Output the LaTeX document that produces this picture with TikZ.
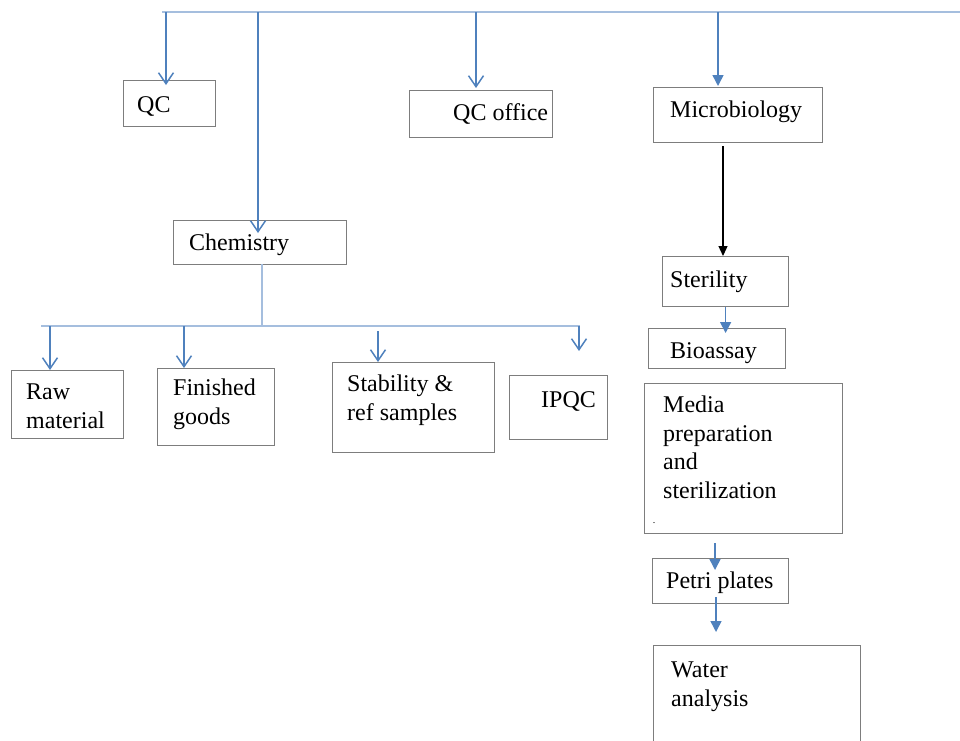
\documentclass[tikz,border=0pt]{standalone}
\usepackage{fontspec}
\setmainfont{Liberation Serif}
\usetikzlibrary{arrows.meta}
\definecolor{boxgray}{RGB}{125,125,125}
\definecolor{arrblue}{RGB}{79,129,189}
\definecolor{barblue}{RGB}{165,190,222}
\tikzset{
  box/.style={draw=boxgray,line width=1.2pt,anchor=north west,inner sep=0pt},
  lbl/.style={anchor=base west,inner sep=0pt,align=left,font=\fontsize{24}{28.5}\selectfont},
  bar/.style={draw=barblue,line width=1.3pt},
  vee/.style={draw=arrblue,line width=1.5pt,-{Straight Barb[length=11pt,width=15pt,line width=1.5pt]}},
  tri/.style={draw=arrblue,line width=1.5pt,-{Triangle[length=11pt,width=11pt]}},
  blk/.style={draw=black,line width=1.2pt,-{Triangle[length=10pt,width=9pt]}}
}
\begin{document}
\begin{tikzpicture}[x=1pt,y=-1pt]
\useasboundingbox (0,0) rectangle (960,740);
% boxes
\node[box,minimum width=92,minimum height=46] (qc) at (123,80) {};
\node[box,minimum width=173,minimum height=44] (chem) at (173,220) {};
\node[box,minimum width=143,minimum height=47] (qco) at (409,90) {};
\node[box,minimum width=169,minimum height=55] (mb) at (653,87) {};
\node[box,minimum width=126,minimum height=50] (ster) at (662,256) {};
\node[box,minimum width=137,minimum height=40] (bio) at (648,328) {};
\node[box,minimum width=198,minimum height=150] (media) at (644,383) {};
\node[box,minimum width=136,minimum height=45] (petri) at (652,558) {};
\node[box,minimum width=207,minimum height=130] (water) at (653,645) {};
\node[box,minimum width=112,minimum height=68] (raw) at (11,370) {};
\node[box,minimum width=117,minimum height=77] (fin) at (157,368) {};
\node[box,minimum width=162,minimum height=90] (stab) at (332,362) {};
\node[box,minimum width=98,minimum height=64] (ipqc) at (509,375) {};
% texts
\node[lbl] (qct) at (137,112) {QC};
\node[lbl] (chemt) at (189,250) {Chemistry};
\node[lbl] (qcot) at (453,120) {QC office};
\node[lbl] (mbt) at (670,117) {Microbiology};
\node[lbl] (stert) at (670,287) {Sterility};
\node[lbl] (biot) at (670,358) {Bioassay};
\node[lbl] (mediat) at (663,498) {Media\\preparation\\and\\sterilization};
\node[inner sep=0pt,font=\fontsize{10}{12}\selectfont] (dot) at (654,523) {.};
\node[lbl] (petrit) at (666,588) {Petri plates};
\node[lbl] (watert) at (671,706) {Water\\analysis};
\node[lbl] (rawt) at (26,428) {Raw\\material};
\node[lbl] (fint) at (173,424) {Finished\\goods};
\node[lbl] (stabt) at (347,420) {Stability \&\\ref samples};
\node[lbl] (ipqct) at (541,407) {IPQC};
% top bar
\coordinate (t0) at (162,12);
\coordinate (t1) at (960,12);
\draw[bar] (t0) -- (t1);
\coordinate (aq) at (166,12);
\coordinate (ac) at (258,12);
\coordinate (ao) at (476,12);
\coordinate (am) at (718,12);
\draw[vee] (aq) -- ([yshift=-5]aq |- qc.north);
\draw[vee] (ac) -- ([yshift=-13]ac |- chem.north);
\draw[vee] (ao) -- ([yshift=2]ao |- qco.north);
\draw[tri] (am) -- ([yshift=1]am |- mb.north);
% microbiology column
\coordinate (mbs) at (723,146);
\draw[blk] (mbs) -- (mbs |- ster.north);
\draw[tri] (ster.south) -- ([yshift=-5]ster.south |- bio.north);
\coordinate (mp) at (715,543);
\draw[tri] (mp) -- ([yshift=-12]mp |- petri.north);
\coordinate (pw) at (716,597);
\draw[tri] (pw) -- ([yshift=13]pw |- water.north);
% chemistry bar
\coordinate (cs) at (262,264);
\coordinate (h0) at (41,326);
\coordinate (h1) at (580,326);
\draw[bar] (cs) -- (cs |- h0);
\draw[bar] (h0) -- (h1);
\coordinate (br) at (50,326);
\coordinate (bf) at (184,326);
\coordinate (bs) at (378,331);
\coordinate (bi) at (579,326);
\coordinate (bie) at (579,351);
\draw[vee] (br) -- (br |- raw.north);
\draw[vee] (bf) -- (bf |- fin.north);
\draw[vee] (bs) -- (bs |- stab.north);
\draw[vee] (bi) -- (bie);
\end{tikzpicture}
\end{document}
